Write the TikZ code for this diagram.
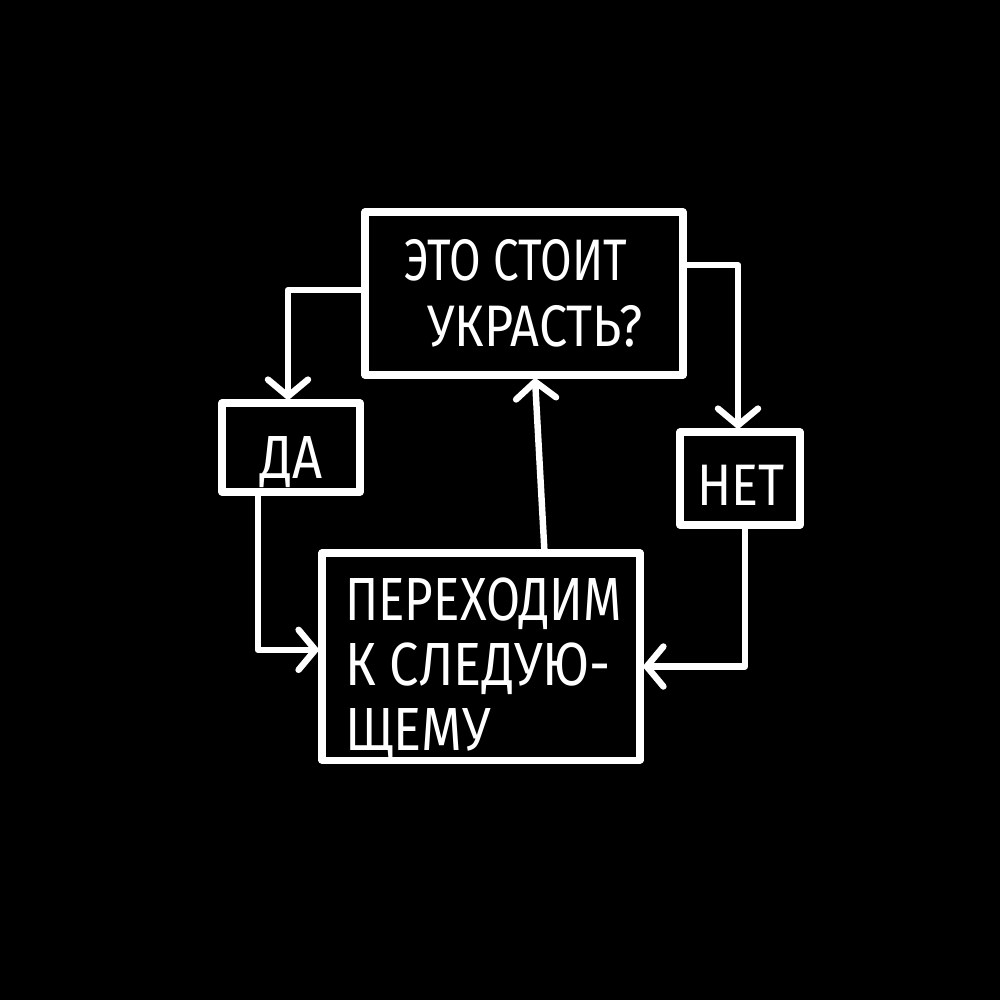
\documentclass[tikz,border=0pt]{standalone}
\usepackage{fontspec}
\newfontfamily\hand[FakeStretch=0.78]{Fira Sans}
\newfontfamily\handw[FakeStretch=0.86]{Fira Sans}
\newfontfamily\handm[FakeStretch=0.81]{Fira Sans}
\usetikzlibrary{arrows.meta}
\begin{document}
\begin{tikzpicture}[x=0.03cm,y=-0.03cm,
  box/.style={draw=white,line width=6pt,line join=round,fill=black,inner sep=0pt},
  conn/.style={draw=white,line width=5.5pt,line join=round,line cap=round},
  arr/.style={conn,-{Straight Barb[length=0.5cm,width=1.2cm,line width=5.5pt,round]}},
  lbl/.style={text=white,font=\hand\fontsize{50}{60}\selectfont,inner sep=0pt}]
\fill[black] (0,0) rectangle (1000,1000);
\useasboundingbox (0,0) rectangle (1000,1000);
% boxes
\node[box,minimum width=9.54cm,minimum height=4.89cm] (top) at (524,293.5) {};
\node[box,minimum width=4.14cm,minimum height=2.67cm] (da) at (291,447.5) {};
\node[box,minimum width=3.6cm,minimum height=2.79cm] (net) at (740,478.5) {};
\node[box,minimum width=9.54cm,minimum height=6.21cm] (bot) at (481,656.5) {};
% texts
\node[lbl,anchor=base] (t1) at (516,280) {ЭТО СТОИТ};
\node[lbl,anchor=base,font=\handw\fontsize{50}{60}\selectfont] (t2) at (535,346) {УКРАСТЬ?};
\node[lbl,anchor=base,font=\handw\fontsize{52}{60}\selectfont] (tda) at (292,478) {ДА};
\node[lbl,anchor=base,font=\handw\fontsize{50}{60}\selectfont] (tnet) at (741,505) {НЕТ};
\node[lbl,anchor=base west,font=\handm\fontsize{52}{60}\selectfont] (b1) at (345,620) {ПЕРЕХОДИМ};
\node[lbl,anchor=base west,font=\handw\fontsize{52}{60}\selectfont] (b2) at (345,685) {К СЛЕДУЮ-};
\node[lbl,anchor=base west,font=\handw\fontsize{52}{60}\selectfont] (b3) at (345,750) {ЩЕМУ};
% connectors
\draw[arr] ([yshift=0.1cm]top.west) -| ([xshift=-0.09cm]da.north);
\draw[arr] ([yshift=0.85cm]top.east) -| ([xshift=-0.06cm]net.north);
\draw[arr] ([xshift=-0.99cm]da.south) |- ([yshift=0.2cm]bot.west);
\draw[arr] ([xshift=0.15cm]net.south) |- ([yshift=-0.3cm]bot.east);
\draw[arr] ([xshift=1.9cm]bot.north) -- ([xshift=0.33cm]top.south);
\end{tikzpicture}
\end{document}
